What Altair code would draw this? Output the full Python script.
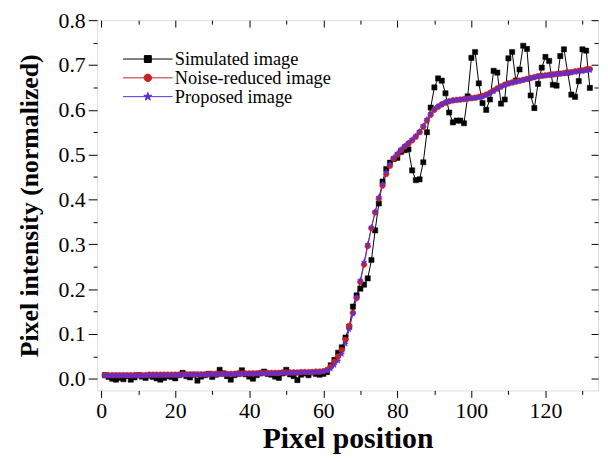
import altair as alt
import pandas as pd

# ---------------- data ----------------
pixel_position = list(range(1, 133))

simulated = [
    0.008, 0.004, 0.000, -0.002, 0.002, -0.001, 0.006, -0.002, 0.003, 0.008,
    0.005, 0.002, 0.007, 0.004, 0.001, -0.002, 0.002, 0.006, 0.004, 0.001,
    0.008, 0.013, 0.006, 0.003, 0.009, -0.004, 0.005, 0.008, 0.011, 0.004,
    0.009, 0.020, 0.012, 0.006, -0.002, 0.008, 0.011, 0.019, 0.010, 0.005,
    0.000, 0.008, 0.012, 0.016, 0.011, 0.009, 0.005, 0.002, 0.012, 0.020,
    0.010, 0.006, -0.003, 0.009, 0.012, 0.008, 0.014, 0.011, 0.009, 0.011,
    0.015, 0.030, 0.042, 0.058, 0.070, 0.092, 0.116, 0.161, 0.186, 0.201,
    0.210, 0.224, 0.265, 0.331, 0.391, 0.440, 0.468, 0.482, 0.490, 0.493,
    0.506, 0.510, 0.512, 0.465, 0.443, 0.445, 0.483, 0.550, 0.605, 0.650,
    0.670, 0.665, 0.637, 0.594, 0.572, 0.576, 0.576, 0.570, 0.630, 0.716,
    0.729, 0.659, 0.615, 0.600, 0.623, 0.687, 0.683, 0.614, 0.623, 0.715,
    0.729, 0.665, 0.690, 0.743, 0.736, 0.632, 0.604, 0.658, 0.694, 0.718,
    0.709, 0.656, 0.654, 0.720, 0.735, 0.683, 0.634, 0.629, 0.664, 0.735,
    0.732, 0.649,
]

noise_reduced = [
    0.008, 0.008, 0.008, 0.008, 0.008, 0.008, 0.008, 0.008, 0.008, 0.008,
    0.008, 0.008, 0.009, 0.009, 0.009, 0.009, 0.009, 0.009, 0.009, 0.009,
    0.009, 0.010, 0.010, 0.010, 0.010, 0.010, 0.010, 0.010, 0.010, 0.011,
    0.011, 0.011, 0.011, 0.011, 0.011, 0.011, 0.012, 0.012, 0.012, 0.012,
    0.012, 0.012, 0.013, 0.013, 0.013, 0.013, 0.013, 0.013, 0.014, 0.014,
    0.014, 0.014, 0.014, 0.015, 0.015, 0.015, 0.015, 0.016, 0.016, 0.017,
    0.020, 0.027, 0.038, 0.050, 0.064, 0.087, 0.118, 0.147, 0.180, 0.216,
    0.255, 0.296, 0.336, 0.371, 0.402, 0.431, 0.457, 0.475, 0.491, 0.500,
    0.510, 0.518, 0.525, 0.532, 0.540, 0.550, 0.562, 0.576, 0.589, 0.600,
    0.607, 0.612, 0.616, 0.619, 0.621, 0.622, 0.623, 0.624, 0.625, 0.626,
    0.627, 0.629, 0.631, 0.634, 0.638, 0.643, 0.648, 0.652, 0.656, 0.659,
    0.661, 0.663, 0.665, 0.667, 0.669, 0.671, 0.673, 0.675, 0.676, 0.677,
    0.678, 0.679, 0.680, 0.681, 0.682, 0.683, 0.684, 0.686, 0.687, 0.688,
    0.690, 0.691,
]

proposed = [
    0.007, 0.007, 0.007, 0.007, 0.007, 0.007, 0.007, 0.007, 0.007, 0.007,
    0.007, 0.007, 0.008, 0.008, 0.008, 0.008, 0.008, 0.008, 0.008, 0.008,
    0.008, 0.009, 0.009, 0.009, 0.009, 0.009, 0.009, 0.009, 0.009, 0.010,
    0.010, 0.010, 0.010, 0.010, 0.010, 0.010, 0.011, 0.011, 0.011, 0.011,
    0.011, 0.011, 0.012, 0.012, 0.012, 0.012, 0.012, 0.012, 0.013, 0.013,
    0.013, 0.013, 0.013, 0.014, 0.014, 0.014, 0.014, 0.015, 0.015, 0.016,
    0.018, 0.022, 0.030, 0.040, 0.055, 0.078, 0.110, 0.145, 0.182, 0.220,
    0.260, 0.300, 0.338, 0.373, 0.405, 0.435, 0.461, 0.479, 0.494, 0.503,
    0.512, 0.520, 0.527, 0.534, 0.542, 0.552, 0.565, 0.579, 0.592, 0.602,
    0.608, 0.613, 0.617, 0.619, 0.621, 0.622, 0.623, 0.624, 0.625, 0.626,
    0.626, 0.627, 0.629, 0.632, 0.636, 0.641, 0.646, 0.651, 0.655, 0.658,
    0.660, 0.662, 0.664, 0.666, 0.668, 0.670, 0.672, 0.674, 0.675, 0.676,
    0.677, 0.678, 0.679, 0.680, 0.681, 0.682, 0.683, 0.684, 0.685, 0.686,
    0.687, 0.688,
]

series_names = ["Simulated image", "Noise-reduced image", "Proposed image"]
series_colors = ["#000000", "#c42226", "#5b2fe0"]

x_tick_values = [0, 10, 20, 30, 40, 50, 60, 70, 80, 90, 100, 110, 120, 130]
y_tick_values = [0.0, 0.05, 0.1, 0.15, 0.2, 0.25, 0.3, 0.35, 0.4, 0.45,
                 0.5, 0.55, 0.6, 0.65, 0.7, 0.75, 0.8]

# ---------------- table ----------------
frames = []
for name, vals in zip(series_names, [simulated, noise_reduced, proposed]):
    frames.append(pd.DataFrame({"x": pixel_position, "y": vals, "series": name}))
df = pd.concat(frames, ignore_index=True)
df["order"] = range(len(df))

FONT = "Liberation Serif"

# marker paths (unit box -1..1)
STAR = ("M0,-1L0.235,-0.324L0.951,-0.309L0.38,0.124L0.588,0.809L0,0.4"
        "L-0.588,0.809L-0.38,0.124L-0.951,-0.309L-0.235,-0.324Z")
SQUARE = "M-0.9,-0.9H0.9V0.9H-0.9Z"
CIRCLE = "M1,0A1,1 0 1,1 -1,0A1,1 0 1,1 1,0Z"

# legend glyphs: short line through a small marker
L_LINE = "M-5,0H5"
L_STAR = ("M0,-0.85L0.2,-0.275L0.808,-0.263L0.323,0.105L0.5,0.688L0,0.34"
          "L-0.5,0.688L-0.323,0.105L-0.808,-0.263L-0.2,-0.275Z")
L_SQUARE = "M-0.7,-0.7H0.7V0.7H-0.7Z"
L_CIRCLE = "M0.76,0A0.76,0.76 0 1,1 -0.76,0A0.76,0.76 0 1,1 0.76,0Z"

xscale = alt.Scale(domain=[-1.1, 134.2], nice=False, zero=False)
yscale = alt.Scale(domain=[-0.026, 0.8], nice=False, zero=False)


def cscale():
    return alt.Scale(domain=series_names, range=series_colors)


major_x = "datum.value % 20 == 0"
major_y = "round(datum.value * 100) % 10 == 0"

lines = alt.Chart(df).mark_line(strokeWidth=1, clip=True).encode(
    x=alt.X("x:Q", scale=xscale, axis=alt.Axis(
        orient="bottom", values=x_tick_values, grid=False, domain=False,
        labelExpr=f"{major_x} ? datum.label : ''", labelOverlap=False,
        tickSize={"condition": {"test": major_x, "value": 7}, "value": 4},
        tickColor="black", tickWidth=1, labelPadding=3,
        labelFont=FONT, labelFontSize=22, labelColor="black",
        title="Pixel position", titleFont=FONT, titleFontSize=30,
        titleFontWeight="bold", titleColor="black", titlePadding=3)),
    y=alt.Y("y:Q", scale=yscale, axis=alt.Axis(
        orient="left", values=y_tick_values, grid=False, domain=False,
        labelExpr=f"{major_y} ? format(datum.value, '.1f') : ''", labelOverlap=False,
        tickSize={"condition": {"test": major_y, "value": 9}, "value": 4},
        tickColor="black", tickWidth=1, labelPadding=3,
        labelFont=FONT, labelFontSize=22, labelColor="black",
        title="Pixel intensity (normalized)", titleFont=FONT, titleFontSize=26,
        titleFontWeight="bold", titleColor="black", titlePadding=16)),
    color=alt.Color("series:N", scale=cscale(), legend=None),
    detail="series:N",
    order="order:Q",
)

points = alt.Chart(df).mark_point(filled=True, strokeWidth=0.5, size=34, opacity=1, clip=True).encode(
    x=alt.X("x:Q", scale=xscale, axis=alt.Axis(
        orient="top", values=x_tick_values, grid=False, domain=False, labels=False,
        title=None, offset=-7, tickSize=7, tickColor="black", tickWidth=1,
        tickDash={"condition": {"test": major_x, "value": [7, 0]}, "value": [0, 3, 4]})),
    y=alt.Y("y:Q", scale=yscale, axis=alt.Axis(
        orient="right", values=y_tick_values, grid=False, domain=False, labels=False,
        title=None, offset=-7, tickSize=7, tickColor="black", tickWidth=1,
        tickDash={"condition": {"test": major_y, "value": [7, 0]}, "value": [0, 3, 4]})),
    color=alt.Color("series:N", scale=cscale(), legend=None),
    stroke=alt.Stroke("series:N", scale=cscale(), legend=None),
    shape=alt.Shape("series:N", scale=alt.Scale(domain=series_names, range=[SQUARE, CIRCLE, STAR]),
                    legend=None),
    order="order:Q",
)

legend = alt.Legend(
    title=None, orient="none", legendX=42, legendY=30, padding=0,
    labelFont=FONT, labelFontSize=18.5, labelColor="black", labelOffset=18,
    rowPadding=0, labelLimit=300, symbolStrokeWidth=1, symbolOpacity=1,
)

# legend carrier: no marks of its own (filtered out), only the legend
legend_layer = alt.Chart(df).transform_filter("false").mark_point(
    filled=True, size=36, strokeWidth=1
).encode(
    x=alt.X("x:Q", scale=xscale, axis=None),
    y=alt.Y("y:Q", scale=yscale, axis=None),
    color=alt.Color("series:N", scale=cscale(), legend=legend),
    stroke=alt.Stroke("series:N", scale=cscale(), legend=legend),
    shape=alt.Shape("series:N", scale=alt.Scale(
        domain=series_names,
        range=[L_LINE + L_SQUARE, L_LINE + L_CIRCLE, L_LINE + L_STAR]), legend=legend),
)

chart = alt.layer(lines, points, legend_layer).resolve_scale(
    shape="independent", color="independent", stroke="independent"
).resolve_axis(x="independent", y="independent").properties(
    width=506, height=374,
    autosize=alt.AutoSizeParams(type="none"),
    padding={"left": 90, "top": 10, "right": 2, "bottom": 70},
).configure_view(stroke="black", strokeWidth=1.3).configure(background="white")

chart.save("out.html", embed_options={"renderer": "svg", "actions": False})
